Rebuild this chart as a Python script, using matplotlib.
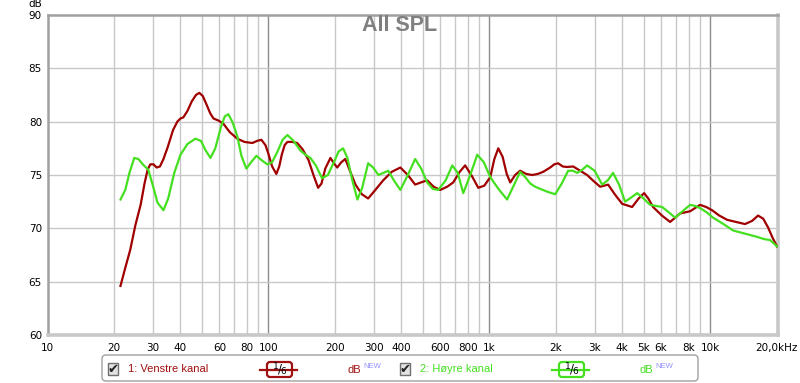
import numpy as np
import matplotlib.pyplot as plt
from matplotlib.patches import FancyBboxPatch, Rectangle
from matplotlib.ticker import NullLocator

# 1: Venstre kanal (rod kurve)
freq_v = [21.4, 22.5, 23.7, 25.0, 26.4, 27.5, 28.4, 29.2, 30.2, 31.2, 32.3, 33.5, 35, 37,
          38.7, 40, 41.2, 43, 45, 47, 48.7, 50.5, 52.5, 54.5, 56.4, 59.5, 62.6, 67, 72.4,
          78, 84.7, 89, 93, 97, 100, 104, 108.7, 112, 115, 118.5, 122, 128, 135, 143, 152,
          160, 168, 174, 181, 191, 198, 205, 214, 223, 235, 248, 265, 283, 305, 331, 362,
          396, 428, 462, 490, 524, 560, 600, 645, 687, 735, 778, 835, 892, 950, 1011, 1055,
          1099, 1150, 1200, 1245, 1310, 1381, 1470, 1566, 1660, 1755, 1888, 1970, 2052,
          2150, 2254, 2399, 2580, 2775, 2980, 3178, 3455, 3700, 3998, 4436, 4750, 5027,
          5250, 5521, 6050, 6592, 6950, 7315, 8121, 8550, 9010, 9600, 10208, 11000, 11940,
          13100, 14390, 15500, 16490, 17400, 18290, 19200, 20100]
spl_v = [64.6, 66.3, 68.0, 70.3, 72.2, 74.2, 75.5, 76.0, 76.0, 75.7, 75.8, 76.5, 77.6, 79.2,
         80.0, 80.3, 80.4, 81.0, 81.9, 82.5, 82.7, 82.4, 81.6, 80.8, 80.3, 80.1, 79.8, 79.0, 78.4,
         78.1, 78.0, 78.2, 78.3, 77.8, 77.0, 75.8, 75.1, 75.8, 76.9, 77.8, 78.1, 78.1, 78.0, 77.4, 76.4,
         75.0, 73.8, 74.2, 75.6, 76.6, 76.1, 75.7, 76.2, 76.5, 75.3, 74.1, 73.2, 72.8, 73.6, 74.5, 75.3,
         75.7, 75.0, 74.1, 74.3, 74.5, 73.9, 73.6, 73.9, 74.3, 75.3, 75.9, 74.9, 73.8, 74.0, 74.8, 76.5,
         77.5, 76.7, 75.1, 74.3, 75.0, 75.4, 75.1, 75.0, 75.1, 75.3, 75.7, 76.0, 76.1,
         75.8, 75.75, 75.8, 75.4, 75.0, 74.4, 73.9, 74.1, 73.2, 72.3, 72.0, 72.8, 73.3,
         72.8, 72.0, 71.2, 70.6, 71.0, 71.4, 71.6, 71.9, 72.2, 72.0, 71.7, 71.2, 70.8,
         70.6, 70.4, 70.7, 71.2, 70.9, 70.1, 69.1, 68.3]

# 2: Hoyre kanal (gronn kurve)
freq_h = [21.4, 22.5, 23.5, 24.7, 25.8, 27.0, 28.6, 30.0, 31.5, 33.5, 35.2, 37.5, 40, 43,
          46.7, 49.5, 52, 54.7, 57.5, 61, 63.5, 65.9, 69, 72.4, 75.5, 79.5, 83.5, 88.3, 93,
          98.9, 104, 110, 116, 122, 130, 139.6, 147, 155, 164, 175, 186, 198, 208, 218, 228,
          240, 253, 266, 283, 298, 315, 332, 349, 370, 396, 428, 462, 492, 524, 555, 588,
          635, 680, 720, 763, 820, 883, 945, 1011, 1100, 1205, 1290, 1381, 1455, 1534, 1615,
          1702, 1850, 1990, 2130, 2277, 2390, 2502, 2640, 2775, 3000, 3246, 3440, 3638, 3870,
          4123, 4400, 4674, 5000, 5353, 5700, 6066, 6500, 6950, 7500, 8121, 8550, 9010, 9650,
          10320, 11500, 12710, 14400, 16320, 17500, 18680, 19400, 20100]
spl_h = [72.7, 73.6, 75.2, 76.6, 76.5, 76.0, 75.5, 74.0, 72.4, 71.7, 72.8, 75.2, 76.9, 77.9,
         78.4, 78.2, 77.3, 76.6, 77.5, 79.5, 80.5, 80.7, 79.9, 78.6, 76.8, 75.6, 76.2, 76.8, 76.4,
         76.0, 76.2, 77.2, 78.3, 78.75, 78.2, 77.3, 76.9, 76.6, 75.9, 74.7, 75.0, 76.2, 77.2, 77.5, 76.6,
         74.5, 72.7, 73.8, 76.1, 75.7, 75.0, 75.2, 75.4, 74.5, 73.6, 75.0, 76.5, 75.6, 74.3, 73.7, 73.6,
         74.5, 75.9, 75.2, 73.3, 75.0, 76.9, 76.2, 74.8, 73.7, 72.7, 74.0, 75.3, 74.8, 74.2, 73.9,
         73.7, 73.4, 73.2, 74.2, 75.4, 75.4, 75.2, 75.5, 75.9, 75.4, 74.1, 74.5, 75.2, 74.1,
         72.5, 72.9, 73.3, 72.8, 72.2, 72.1, 72.0, 71.5, 71.0, 71.6, 72.2, 72.1, 71.9, 71.5,
         71.0, 70.4, 69.8, 69.5, 69.2, 69.0, 68.9, 68.6, 68.3]

tick_pos = [10, 20, 30, 40, 60, 80, 100, 200, 300, 400, 600, 800, 1000,
            2000, 3000, 4000, 5000, 6000, 8000, 10000, 20000]
tick_txt = ['10', '20', '30', '40', '60', '80', '100', '200', '300', '400', '600', '800', '1k',
            '2k', '3k', '4k', '5k', '6k', '8k', '10k', '20,0kHz']
db_ticks = [60, 65, 70, 75, 80, 85, 90]

rod = '#a00000'
gronn = '#44e020'

fig = plt.figure(figsize=(8, 3.83), dpi=100)
ax = fig.add_axes([47.5 / 800, 48 / 383, 730.5 / 800, 320 / 383])
ax.set_xscale('log')
ax.set_xlim(10, 20300)
ax.set_ylim(60, 90)

# rutenett
minor = [m * 10 ** k for k in range(1, 4) for m in range(2, 10)]
for f in minor:
    ax.axvline(f, color='#c8c8c8', lw=1, zorder=1)
for f in [100, 1000, 10000]:
    ax.axvline(f, color='#8c8c8c', lw=1, zorder=1)
for d in db_ticks[1:-1]:
    ax.axhline(d, color='#c8c8c8', lw=1, zorder=1)

ax.plot(freq_v, spl_v, color=rod, lw=1.6, zorder=3, solid_joinstyle='round')
ax.plot(freq_h, spl_h, color=gronn, lw=1.6, zorder=4, solid_joinstyle='round')

ax.set_xticks(tick_pos, tick_txt)
ax.xaxis.set_minor_locator(NullLocator())
ax.set_yticks(db_ticks)
ax.tick_params(axis='x', length=0, pad=5.5, labelsize=7.5)
ax.tick_params(axis='y', length=0, pad=4, labelsize=7.5)

for s in ['left', 'top']:
    ax.spines[s].set_color('#a0a0a0')
    ax.spines[s].set_linewidth(1.8)
for s in ['right', 'bottom']:
    ax.spines[s].set_color('#c8c8c8')
    ax.spines[s].set_linewidth(2.6)

fig.text(35 / 800, 1 - 4 / 383, 'dB', ha='center', va='center', fontsize=7.5)

# overlay i pikselkoordinater for tittel og legende
ov = fig.add_axes([0, 0, 1, 1], zorder=10)
ov.set_xlim(0, 800)
ov.set_ylim(383, 0)
ov.axis('off')
ov.patch.set_alpha(0)

ov.text(400, 25.5, 'All SPL', ha='center', va='center', fontsize=15.5,
        fontweight='bold', color='#7f7f7f', family='Liberation Sans')

ov.add_patch(FancyBboxPatch((102, 355), 596, 26, boxstyle='round,pad=0,rounding_size=4',
                            fc='white', ec='#a0a0a0', lw=1))


def legend_item(x0, text, col, icon_x, db_x):
    ov.add_patch(Rectangle((x0, 363), 10, 12, fc='#e2e2e2', ec='#707070', lw=1))
    ov.text(x0 + 5.5, 369, '\u2714', ha='center', va='center', fontsize=9.5,
            color='#202020', family='DejaVu Sans')
    ov.text(x0 + 20, 369.5, text, ha='left', va='center', fontsize=8,
            color=col, family='Liberation Sans')
    ov.plot([icon_x, icon_x + 37], [369.5, 369.5], color=col, lw=1.6)
    ov.add_patch(FancyBboxPatch((icon_x + 7, 362), 25, 15,
                                boxstyle='round,pad=0,rounding_size=3',
                                fc='white', ec=col, lw=1.6))
    cx = icon_x + 19.5
    ov.text(cx - 3.5, 366.5, '1', ha='center', va='center', fontsize=6.5, color='black')
    ov.text(cx, 369.5, '/', ha='center', va='center', fontsize=8.5, color='black')
    ov.text(cx + 3.5, 372, '6', ha='center', va='center', fontsize=6.5, color='black')
    ov.text(db_x, 370, 'dB', ha='left', va='center', fontsize=8,
            color=col, family='Liberation Sans')
    ov.text(db_x + 15, 367, 'NEW', ha='left', va='center', fontsize=5.5,
            color='#9090ff', family='Liberation Sans')


legend_item(108, '1: Venstre kanal', '#a01010', 260, 348)
legend_item(400, '2: H\u00f8yre kanal', gronn, 552, 640)

fig.savefig('out.png', dpi=100)
